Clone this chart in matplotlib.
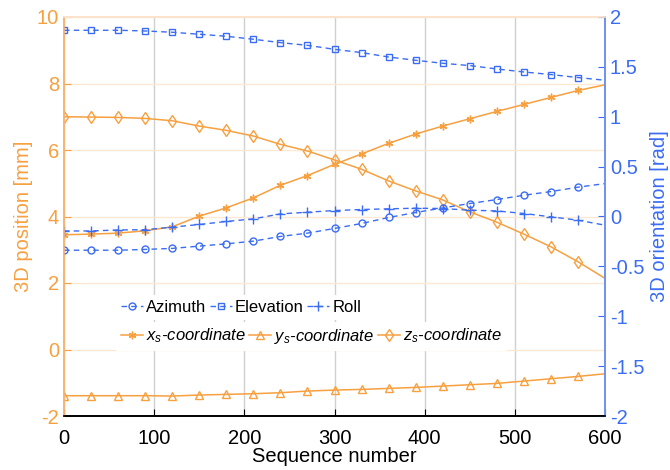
import numpy as np
import matplotlib
matplotlib.use('Agg')
import matplotlib.pyplot as plt

plt.rcParams['font.family'] = ['Liberation Sans', 'DejaVu Sans']
plt.rcParams['mathtext.fontset'] = 'custom'
plt.rcParams['mathtext.it'] = 'Liberation Sans:italic'
plt.rcParams['mathtext.rm'] = 'Liberation Sans'
plt.rcParams['axes.unicode_minus'] = False

# sequence numbers (markers every 30, line continues to 600)
seq = [0, 30, 60, 90, 120, 150, 180, 210, 240, 270, 300,
       330, 360, 390, 420, 450, 480, 510, 540, 570, 600]

# 3D position [mm]
x_s = [3.45, 3.47, 3.50, 3.57, 3.69, 4.01, 4.26, 4.56, 4.94, 5.23, 5.57,
       5.88, 6.20, 6.48, 6.72, 6.94, 7.16, 7.37, 7.58, 7.79, 7.96]
y_s = [-1.39, -1.39, -1.39, -1.39, -1.40, -1.37, -1.35, -1.33, -1.30, -1.25, -1.22,
       -1.20, -1.17, -1.14, -1.10, -1.06, -1.02, -0.95, -0.88, -0.81, -0.73]
z_s = [7.00, 6.99, 6.98, 6.95, 6.88, 6.72, 6.59, 6.42, 6.17, 5.97, 5.70,
       5.42, 5.07, 4.77, 4.50, 4.14, 3.83, 3.47, 3.09, 2.64, 2.14]

# 3D orientation [rad]
azimuth = [-0.338, -0.338, -0.338, -0.33, -0.32, -0.297, -0.274, -0.247, -0.20, -0.167, -0.12,
           -0.07, -0.01, 0.04, 0.086, 0.13, 0.17, 0.213, 0.25, 0.294, 0.33]
elevation = [1.867, 1.867, 1.867, 1.86, 1.847, 1.827, 1.807, 1.777, 1.743, 1.716, 1.676,
             1.643, 1.599, 1.566, 1.536, 1.513, 1.479, 1.449, 1.423, 1.393, 1.366]
roll = [-0.145, -0.145, -0.135, -0.132, -0.107, -0.08, -0.05, -0.024, 0.026, 0.043, 0.06,
        0.07, 0.077, 0.083, 0.08, 0.063, 0.056, 0.03, -0.003, -0.037, -0.087]

orange = '#F7A040'
blue = '#3B6CF4'
marks = list(range(20))

fig = plt.figure(figsize=(6.7, 4.7), dpi=100)
ax = fig.add_axes([64/670, 1-416/470, 541/670, 399/470])
ax2 = ax.twinx()

# position curves
lx, = ax.plot(seq, x_s, '-', color=orange, lw=1.1, marker=(6, 2, 0), ms=5.5, mew=1.0,
              markevery=marks, label=r'$x_s$-coordinate')
ly, = ax.plot(seq, y_s, '-', color=orange, lw=1.1, marker='^', ms=5.5, mfc='none', mew=1.0,
              markevery=marks, label=r'$y_s$-coordinate')
lz, = ax.plot(seq, z_s, '-', color=orange, lw=1.1, marker='d', ms=6.5, mfc='none', mew=1.0,
              markevery=marks, label=r'$z_s$-coordinate')

# orientation curves
la, = ax2.plot(seq, azimuth, '--', color=blue, lw=1.0, dashes=(4, 3), marker='o', ms=5,
               mfc='none', mew=1.0, markevery=marks, label='Azimuth')
le, = ax2.plot(seq, elevation, '--', color=blue, lw=1.0, dashes=(4, 3), marker='s', ms=4.2,
               mfc='none', mew=1.0, markevery=marks, label='Elevation')
lr, = ax2.plot(seq, roll, '--', color=blue, lw=1.0, dashes=(4, 3), marker='+', ms=6.5,
               mew=1.0, markevery=marks, label='Roll')

ax.set_xlim(0, 600)
ax.set_ylim(-2, 10)
ax2.set_ylim(-2, 2)
ax.set_xticks([0, 100, 200, 300, 400, 500, 600])
ax.set_yticks([-2, 0, 2, 4, 6, 8, 10])
rticks = [-2, -1.5, -1, -0.5, 0, 0.5, 1, 1.5, 2]
ax2.set_yticks(rticks)
ax2.set_yticklabels(['%g' % t for t in rticks])

ax.grid(axis='x', color='#d0d0d0', lw=1.0)
ax.grid(axis='y', color='#fde8d4', lw=1.0)
ax.set_axisbelow(True)

fs = 14.5
ax.tick_params(axis='x', direction='in', labelsize=fs, colors='black', length=5, pad=9)
ax.tick_params(axis='y', direction='in', labelsize=fs, colors=orange, length=5)
ax2.tick_params(axis='y', direction='in', labelsize=fs, colors=blue, length=5)

for a in (ax, ax2):
    a.spines['top'].set_color('#fde3cc')
    a.spines['left'].set_color('#F9B470')
    a.spines['right'].set_color('#6F8FF2')
    a.spines['bottom'].set_color('black')
    for s in a.spines.values():
        s.set_linewidth(1.2)

ax.set_xlabel('Sequence number', fontsize=fs, labelpad=0)
ax.set_ylabel('3D position [mm]', fontsize=fs, color=orange, labelpad=3)
ax2.set_ylabel('3D orientation [rad]', fontsize=fs, color=blue, labelpad=4)

leg1 = ax2.legend(handles=[la, le, lr], ncol=3, loc='center left',
                  bbox_to_anchor=(108/670, 1-307/470), bbox_transform=fig.transFigure,
                  fontsize=12, frameon=True, framealpha=1, edgecolor='none',
                  facecolor='white', handlelength=1.3, handletextpad=0.2,
                  columnspacing=0.2, borderpad=0.3, fancybox=False)
ax2.add_artist(leg1)
leg2 = ax2.legend(handles=[lx, ly, lz], ncol=3, loc='center left',
                  bbox_to_anchor=(108/670, 1-336/470), bbox_transform=fig.transFigure,
                  prop={'size': 12, 'style': 'italic'}, frameon=True, framealpha=1,
                  edgecolor='none', facecolor='white', handlelength=1.3,
                  handletextpad=0.2, columnspacing=0.2, borderpad=0.3, fancybox=False)

fig.savefig('out.png', dpi=100)
